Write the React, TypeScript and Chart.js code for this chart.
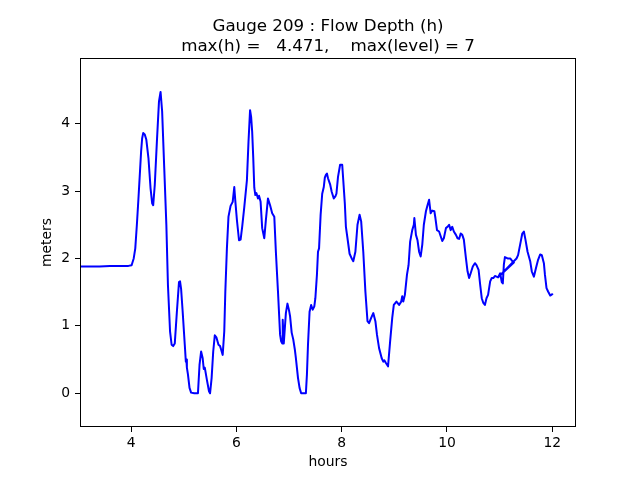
import React, { useEffect, useRef } from "react";
import { Chart, registerables } from "chart.js";

Chart.register(...registerables);

const hours: number[] = [
  3.03, 3.2, 3.4, 3.6, 3.8, 3.95, 4.01, 4.05, 4.08, 4.11, 4.14, 4.17, 4.19, 4.21, 4.23, 4.26, 4.29, 4.33, 4.37, 4.4,
  4.42, 4.45, 4.49, 4.53, 4.56, 4.59, 4.63, 4.67, 4.7, 4.74, 4.77, 4.8, 4.83, 4.87, 4.91, 4.93, 4.95, 4.98, 5.02, 5.04,
  5.05, 5.06, 5.08, 5.11, 5.14, 5.2, 5.27, 5.3, 5.33, 5.36, 5.38, 5.4, 5.44, 5.48, 5.5, 5.53, 5.56, 5.59, 5.62, 5.66,
  5.69, 5.71, 5.74, 5.77, 5.79, 5.82, 5.85, 5.89, 5.93, 5.96, 5.98, 6.01, 6.05, 6.08, 6.11, 6.15, 6.2, 6.23, 6.26, 6.28,
  6.3, 6.32, 6.34, 6.36, 6.38, 6.41, 6.43, 6.46, 6.49, 6.53, 6.56, 6.6, 6.64, 6.68, 6.72, 6.75, 6.79, 6.83, 6.85, 6.87,
  6.88, 6.9, 6.94, 6.97, 7.0, 7.02, 7.05, 7.08, 7.11, 7.13, 7.17, 7.2, 7.23, 7.32, 7.34, 7.36, 7.39, 7.42, 7.45, 7.48,
  7.5, 7.53, 7.55, 7.57, 7.6, 7.63, 7.66, 7.68, 7.7, 7.72, 7.74, 7.78, 7.81, 7.85, 7.88, 7.9, 7.93, 7.97, 8.01, 8.03,
  8.06, 8.08, 8.11, 8.15, 8.19, 8.22, 8.26, 8.3, 8.34, 8.37, 8.41, 8.45, 8.49, 8.52, 8.56, 8.6, 8.64, 8.67, 8.71, 8.76,
  8.79, 8.81, 8.84, 8.88, 8.92, 8.96, 8.99, 9.04, 9.09, 9.13, 9.15, 9.17, 9.2, 9.24, 9.27, 9.3, 9.34, 9.37, 9.38, 9.41,
  9.44, 9.47, 9.5, 9.53, 9.56, 9.6, 9.63, 9.66, 9.69, 9.72, 9.76, 9.78, 9.81, 9.85, 9.88, 9.91, 9.94, 9.98, 10.01, 10.04,
  10.07, 10.1, 10.13, 10.17, 10.2, 10.23, 10.26, 10.29, 10.32, 10.36, 10.39, 10.42, 10.45, 10.49, 10.53, 10.56, 10.6, 10.63, 10.66, 10.69,
  10.72, 10.75, 10.78, 10.82, 10.85, 10.88, 10.91, 10.94, 10.97, 11.01, 11.04, 11.06, 11.08, 11.1, 11.15, 11.2, 11.23, 11.27, 10.97, 11.32,
  11.35, 11.4, 11.43, 11.46, 11.49, 11.53, 11.58, 11.61, 11.65, 11.69, 11.73, 11.77, 11.8, 11.84, 11.86, 11.89, 11.92, 11.96, 12.0,
];

const depth: number[] = [
  1.88, 1.88, 1.88, 1.89, 1.89, 1.89, 1.9, 2.0, 2.15, 2.5, 2.89, 3.3, 3.58, 3.78, 3.86, 3.84, 3.76, 3.49, 3.04, 2.82,
  2.79, 3.09, 3.73, 4.33, 4.471, 4.18, 3.34, 2.5, 1.61, 0.92, 0.72, 0.7, 0.74, 1.21, 1.65, 1.66, 1.55, 1.21, 0.72, 0.47,
  0.5, 0.38, 0.28, 0.08, 0.01, 0.0, 0.0, 0.42, 0.62, 0.52, 0.36, 0.38, 0.2, 0.03, 0.0, 0.23, 0.62, 0.86, 0.83, 0.72,
  0.7, 0.65, 0.57, 0.92, 1.51, 2.15, 2.62, 2.78, 2.84, 3.06, 2.85, 2.57, 2.27, 2.28, 2.47, 2.76, 3.16, 3.73, 4.2, 4.1,
  3.88, 3.5, 3.05, 2.94, 2.97, 2.89, 2.93, 2.84, 2.45, 2.3, 2.57, 2.89, 2.79, 2.67, 2.62, 2.1, 1.51, 0.87, 0.77, 0.74,
  1.09, 0.74, 1.19, 1.33, 1.23, 1.14, 0.9, 0.8, 0.65, 0.52, 0.23, 0.08, 0.0, 0.0, 0.28, 0.72, 1.21, 1.31, 1.24, 1.29,
  1.41, 1.76, 2.1, 2.15, 2.65, 2.96, 3.06, 3.2, 3.24, 3.26, 3.19, 3.1, 2.99, 2.89, 2.92, 2.96, 3.21, 3.39, 3.39, 3.16,
  2.81, 2.47, 2.3, 2.07, 2.0, 1.96, 2.1, 2.5, 2.65, 2.55, 2.1, 1.51, 1.07, 1.04, 1.12, 1.19, 1.07, 0.87, 0.67, 0.52,
  0.47, 0.49, 0.45, 0.4, 0.77, 1.12, 1.31, 1.36, 1.31, 1.36, 1.44, 1.36, 1.46, 1.76, 1.9, 2.25, 2.42, 2.5, 2.6, 2.35,
  2.27, 2.1, 2.03, 2.2, 2.5, 2.7, 2.79, 2.87, 2.67, 2.71, 2.7, 2.6, 2.42, 2.4, 2.33, 2.26, 2.3, 2.45, 2.47, 2.5,
  2.42, 2.47, 2.4, 2.35, 2.3, 2.29, 2.37, 2.35, 2.28, 2.0, 1.81, 1.71, 1.78, 1.88, 1.93, 1.9, 1.83, 1.61, 1.41, 1.34,
  1.31, 1.41, 1.46, 1.66, 1.71, 1.71, 1.74, 1.73, 1.72, 1.78, 1.65, 1.63, 1.91, 2.02, 2.0, 2.0, 1.97, 1.94, 1.72, 2.0,
  2.05, 2.25, 2.37, 2.4, 2.28, 2.1, 1.96, 1.81, 1.73, 1.86, 1.98, 2.06, 2.05, 1.93, 1.76, 1.56, 1.51, 1.45, 1.47,
];

const xTicks: number[] = [4, 6, 8, 10, 12];
const yTicks: number[] = [0, 1, 2, 3, 4];
const titleLines: string[] = ["Gauge 209 : Flow Depth (h)", "max(h) =   4.471,    max(level) = 7"];
const xLabel = "hours";
const yLabel = "meters";

const FONT = "'DejaVu Sans', sans-serif";

const framePlugin = {
  id: "frame",
  afterDraw(chart: any) {
    const { ctx, chartArea } = chart;
    ctx.save();
    ctx.strokeStyle = "#000";
    ctx.lineWidth = 1;
    ctx.strokeRect(
      Math.round(chartArea.left) + 0.5,
      Math.round(chartArea.top) + 0.5,
      Math.round(chartArea.right - chartArea.left) - 1,
      Math.round(chartArea.bottom - chartArea.top) - 1
    );
    ctx.restore();
  },
};

export default function App() {
  const ref = useRef<HTMLCanvasElement | null>(null);

  useEffect(() => {
    if (!ref.current) return;
    const points = hours.map((h, i) => ({ x: h, y: depth[i] }));
    const chart = new Chart(ref.current, {
      type: "line",
      data: {
        datasets: [
          {
            data: points,
            borderColor: "#0000ff",
            backgroundColor: "#0000ff",
            borderWidth: 2,
            pointRadius: 0,
            tension: 0,
            fill: false,
            borderJoinStyle: "round",
            borderCapStyle: "round",
          },
        ],
      },
      options: {
        animation: false,
        responsive: false,
        devicePixelRatio: 1,
        layout: { padding: { left: 0, right: 64, top: 0, bottom: 0 } },
        plugins: {
          legend: { display: false },
          tooltip: { enabled: false },
          title: {
            display: true,
            fullSize: false,
            text: titleLines,
            color: "#000",
            font: { family: FONT, size: 16.7, weight: "normal", lineHeight: 1.15 },
            padding: { top: 17.5, bottom: 2 },
          },
        },
        scales: {
          x: {
            type: "linear",
            min: 3.03,
            max: 12.45,
            afterBuildTicks: (s: any) => {
              s.ticks = xTicks.map((v) => ({ value: v }));
            },
            afterFit: (s: any) => {
              s.height = 53;
            },
            grid: { display: true, drawOnChartArea: false, drawTicks: true, tickLength: 5, color: "#000", tickColor: "#000" },
            border: { display: false },
            ticks: { color: "#000", font: { family: FONT, size: 13.9 }, padding: 3, maxRotation: 0, autoSkip: false },
            title: {
              display: true,
              text: xLabel,
              color: "#000",
              font: { family: FONT, size: 13.9 },
              padding: { top: 0, bottom: 9.5 },
            },
          },
          y: {
            type: "linear",
            min: -0.5,
            max: 4.975,
            afterBuildTicks: (s: any) => {
              s.ticks = yTicks.map((v) => ({ value: v }));
            },
            afterFit: (s: any) => {
              s.width = 80;
            },
            grid: { display: true, drawOnChartArea: false, drawTicks: true, tickLength: 5, color: "#000", tickColor: "#000" },
            border: { display: false },
            ticks: { color: "#000", font: { family: FONT, size: 13.9 }, padding: 5, autoSkip: false },
            title: {
              display: true,
              text: yLabel,
              color: "#000",
              font: { family: FONT, size: 13.9 },
              padding: { top: 39.5, bottom: 0 },
            },
          },
        },
      },
      plugins: [framePlugin],
    });
    return () => chart.destroy();
  }, []);

  return (
    <div style={{ position: "absolute", left: 0, top: 0, width: 640, height: 480, background: "#fff" }}>
      <canvas ref={ref} width={640} height={480} />
    </div>
  );
}
